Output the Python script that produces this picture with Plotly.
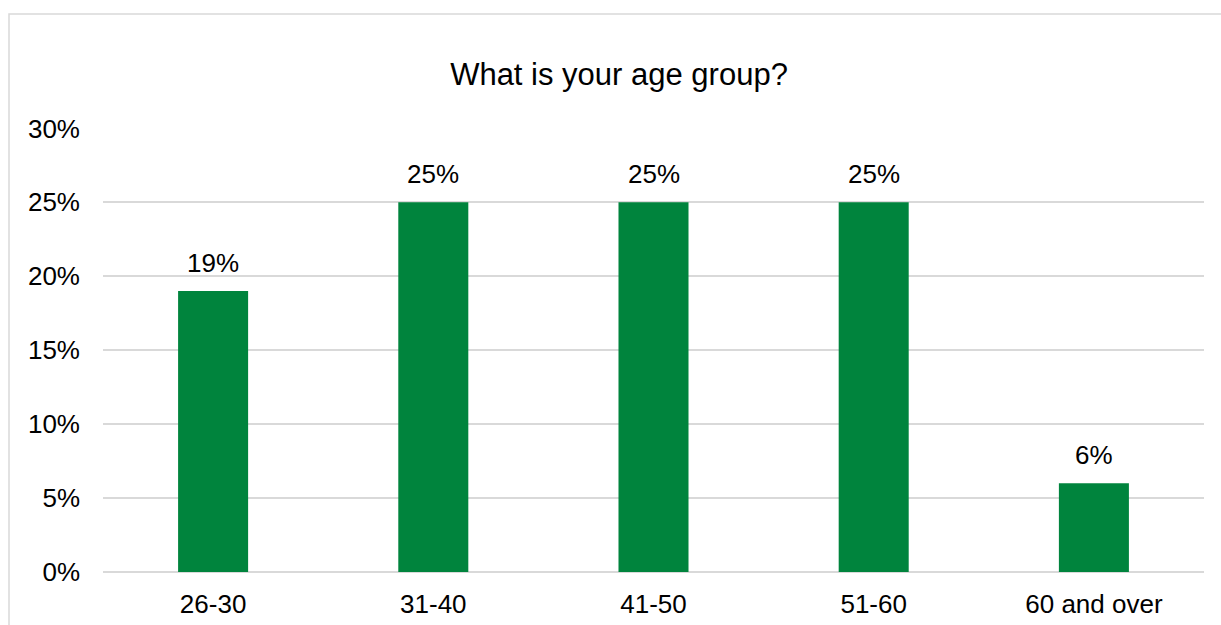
import plotly.graph_objects as go

categories = ["26-30", "31-40", "41-50", "51-60", "60 and over"]
values = [19, 25, 25, 25, 6]
value_labels = ["19%", "25%", "25%", "25%", "6%"]
tick_vals = [0, 5, 10, 15, 20, 25, 30]
tick_text = ["0%", "5%", "10%", "15%", "20%", "25%", "30%"]
title_text = "What is your age group?"

FONT = "Liberation Sans, Arial, sans-serif"

fig = go.Figure()
fig.add_trace(go.Bar(
    x=categories,
    y=values,
    marker=dict(color="#00843D", line=dict(width=0)),
    hoverinfo="skip",
))

annotations = [
    dict(
        x=c, y=v, xref="x", yref="y",
        text=t, showarrow=False,
        yanchor="bottom", xanchor="center",
        yshift=11,
        font=dict(family=FONT, size=26, color="#000000"),
    )
    for c, v, t in zip(categories, values, value_labels)
]

fig.update_layout(
    width=1221,
    height=625,
    margin=dict(l=103, r=17, t=128, b=53, autoexpand=False),
    paper_bgcolor="white",
    plot_bgcolor="white",
    bargap=0.682,
    showlegend=False,
    font=dict(family=FONT, size=26, color="#000000"),
    title=dict(
        text=title_text,
        xref="paper",
        x=(619 - 103) / 1101,
        xanchor="center",
        y=1 - 74 / 625,
        yanchor="middle",
        font=dict(family=FONT, size=31, color="#000000"),
    ),
    xaxis=dict(
        showgrid=False,
        showline=False,
        zeroline=False,
        ticks="",
        automargin=False,
        tickfont=dict(family=FONT, size=26, color="#000000"),
        ticklabelstandoff=14,
    ),
    yaxis=dict(
        range=[0, 30.03],
        tickvals=tick_vals,
        ticktext=tick_text,
        showgrid=True,
        gridcolor="#D9D9D9",
        gridwidth=1.5,
        zeroline=True,
        zerolinecolor="#D9D9D9",
        zerolinewidth=1.5,
        showline=False,
        ticks="",
        automargin=False,
        tickfont=dict(family=FONT, size=26, color="#000000"),
        ticklabelstandoff=22,
    ),
    annotations=annotations,
    shapes=[
        dict(
            type="rect",
            xref="paper",
            yref="paper",
            x0=(9 - 103) / 1101,
            x1=1.2,
            y0=-0.5,
            y1=(572 - 14) / 444,
            line=dict(color="#D9D9D9", width=1.5),
            fillcolor="rgba(0,0,0,0)",
            layer="below",
        )
    ],
)

fig.write_html("out.html")
